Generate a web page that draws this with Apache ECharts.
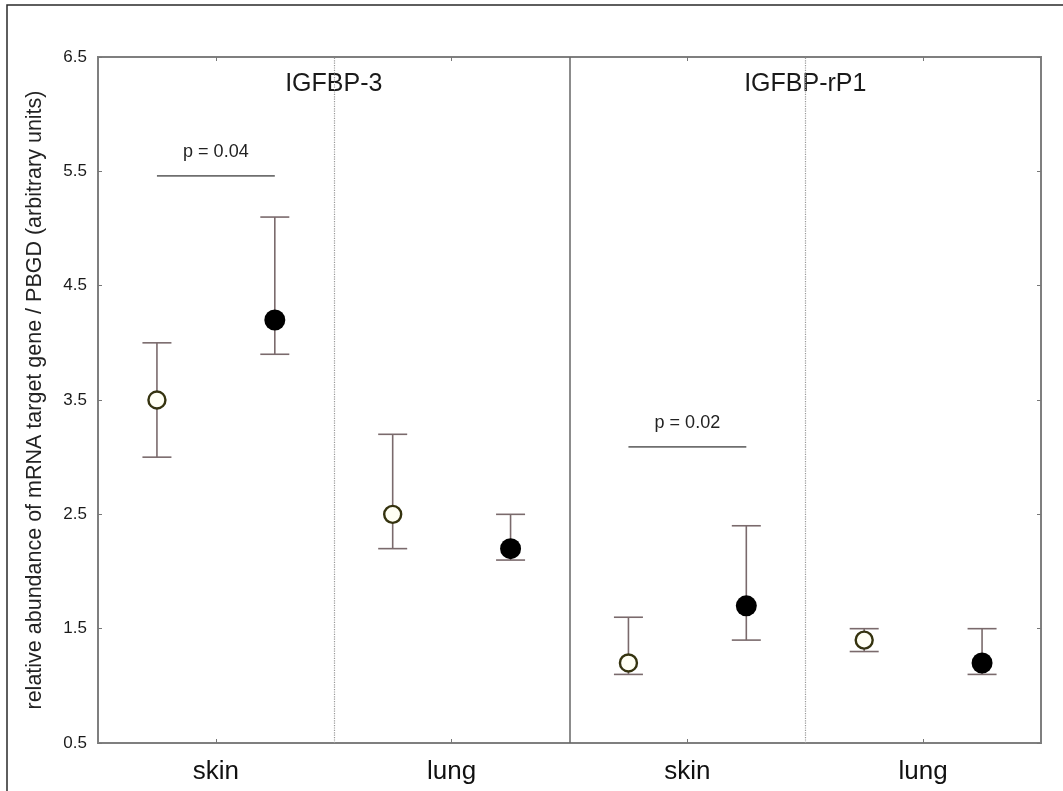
<!DOCTYPE html>
<html><head><meta charset="utf-8">
<script src="https://cdn.jsdelivr.net/npm/echarts@6/dist/echarts.min.js"></script>
<style>html,body{margin:0;padding:0;background:#fff}#c{width:1063px;height:791px}</style>
</head><body><div id="c"></div>
<script>
var categories = ['skin', 'lung', 'skin', 'lung'];
var panels = ['IGFBP-3', 'IGFBP-rP1'];
var yTicks = [0.5, 1.5, 2.5, 3.5, 4.5, 5.5, 6.5];
var openMean = [3.5, 2.5, 1.2, 1.4];
var openLow  = [3.0, 2.2, 1.1, 1.3];
var openHigh = [4.0, 3.2, 1.6, 1.5];
var fillMean = [4.2, 2.2, 1.7, 1.2];
var fillLow  = [3.9, 2.1, 1.4, 1.1];
var fillHigh = [5.1, 2.5, 2.4, 1.5];
var sigGroup = [0, 2];
var sigLevel = [5.46, 3.09];
var sigLabel = ['p = 0.04', 'p = 0.02'];
var panelTitleY = 6.26;

var FONT = 'Liberation Sans, Arial, sans-serif';
var openPts = [], fillPts = [], openErr = [], fillErr = [];
for (var i = 0; i < categories.length; i++) {
  openPts.push([i + 0.25, openMean[i]]);
  fillPts.push([i + 0.75, fillMean[i]]);
  openErr.push([i + 0.25, openLow[i], openHigh[i]]);
  fillErr.push([i + 0.75, fillLow[i], fillHigh[i]]);
}
var sigData = sigGroup.map(function (g, k) { return [g + 0.25, g + 0.75, sigLevel[k], k]; });
var titleData = panels.map(function (p, k) { return [k * 2 + 1, panelTitleY, k]; });

function errRender(params, api) {
  var x = api.value(0);
  var lo = api.coord([x, api.value(1)]);
  var hi = api.coord([x, api.value(2)]);
  var w = 14.5;
  var st = { stroke: '#7a6a6c', lineWidth: 1.6 };
  return { type: 'group', children: [
    { type: 'line', shape: { x1: lo[0], y1: lo[1], x2: hi[0], y2: hi[1] }, style: st },
    { type: 'line', shape: { x1: lo[0] - w, y1: lo[1], x2: lo[0] + w, y2: lo[1] }, style: st },
    { type: 'line', shape: { x1: hi[0] - w, y1: hi[1], x2: hi[0] + w, y2: hi[1] }, style: st }
  ]};
}

var chart = echarts.init(document.getElementById('c'));
chart.setOption({
  animation: false,
  backgroundColor: '#fff',
  graphic: [{ type: 'rect', shape: { x: 7, y: 5, width: 1200, height: 900 }, style: { fill: 'none', stroke: '#2a2a2a', lineWidth: 1.5 }, silent: true, z: 100 }],
  grid: { left: 98, right: 22, top: 57, bottom: 48, show: true, borderColor: '#7f7f7f', borderWidth: 2, backgroundColor: '#fff' },
  xAxis: [
    { type: 'category', data: categories, position: 'bottom', boundaryGap: true,
      axisLine: { show: false }, axisTick: { show: true, inside: true, alignWithLabel: true, length: 4, lineStyle: { color: '#777' } },
      axisLabel: { fontSize: 26, color: '#111', margin: 16, fontFamily: FONT } },
    { type: 'value', min: 0, max: 4, show: false },
    { type: 'category', data: categories, position: 'top', boundaryGap: true,
      axisLine: { show: false }, axisTick: { show: true, inside: true, alignWithLabel: true, length: 4, lineStyle: { color: '#777' } },
      axisLabel: { show: false } }
  ],
  yAxis: [
    { type: 'value', min: 0.5, max: 6.5, interval: 1, position: 'left',
      axisLine: { show: false }, splitLine: { show: false },
      axisTick: { show: true, inside: true, length: 4, lineStyle: { color: '#777' } },
      axisLabel: { fontSize: 17, color: '#1a1a1a', margin: 11, fontFamily: FONT, formatter: function (v) { return v.toFixed(1); } },
      name: 'relative abundance of mRNA target gene / PBGD (arbitrary units)', nameLocation: 'middle', nameGap: 52,
      nameTextStyle: { fontSize: 21.5, color: '#222', fontFamily: FONT } },
    { type: 'value', min: 0.5, max: 6.5, interval: 1, position: 'right',
      axisLine: { show: false }, splitLine: { show: false },
      axisTick: { show: true, inside: true, length: 4, lineStyle: { color: '#777' } }, axisLabel: { show: false } }
  ],
  series: [
    { type: 'scatter', xAxisIndex: 1, yAxisIndex: 0, data: [], silent: true,
      markLine: { symbol: 'none', silent: true, label: { show: false },
        data: [
          { xAxis: 1, lineStyle: { color: '#999', type: 'dotted', width: 1.2 } },
          { xAxis: 3, lineStyle: { color: '#999', type: 'dotted', width: 1.2 } },
          { xAxis: 2, lineStyle: { color: '#666', type: 'solid', width: 1.5 } }
        ] } },
    { type: 'custom', xAxisIndex: 1, yAxisIndex: 0, data: openErr, renderItem: errRender, silent: true, z: 2 },
    { type: 'custom', xAxisIndex: 1, yAxisIndex: 0, data: fillErr, renderItem: errRender, silent: true, z: 2 },
    { type: 'scatter', xAxisIndex: 1, yAxisIndex: 0, data: openPts, symbol: 'circle', symbolSize: 17, z: 5,
      itemStyle: { color: '#fffff4', borderColor: '#35330f', borderWidth: 2.4, opacity: 1 } },
    { type: 'scatter', xAxisIndex: 1, yAxisIndex: 0, data: fillPts, symbol: 'circle', symbolSize: 21, z: 5,
      itemStyle: { color: '#000', opacity: 1 } },
    { type: 'custom', xAxisIndex: 1, yAxisIndex: 0, data: sigData, silent: true, z: 3,
      renderItem: function (params, api) {
        var a = api.coord([api.value(0), api.value(2)]);
        var b = api.coord([api.value(1), api.value(2)]);
        return { type: 'group', children: [
          { type: 'line', shape: { x1: a[0], y1: a[1], x2: b[0], y2: b[1] }, style: { stroke: '#6f6f6f', lineWidth: 1.6 } },
          { type: 'text', style: { text: sigLabel[api.value(3)], x: (a[0] + b[0]) / 2, y: a[1] - 24, textAlign: 'center', textVerticalAlign: 'middle', fontSize: 18, fill: '#222', fontFamily: FONT } }
        ]};
      } },
    { type: 'custom', xAxisIndex: 1, yAxisIndex: 0, data: titleData, silent: true, z: 3,
      renderItem: function (params, api) {
        var p = api.coord([api.value(0), api.value(1)]);
        return { type: 'text', style: { text: panels[api.value(2)], x: p[0], y: p[1], textAlign: 'center', textVerticalAlign: 'middle', fontSize: 25, fill: '#1a1a1a', fontFamily: FONT } };
      } }
  ]
});
</script></body></html>
